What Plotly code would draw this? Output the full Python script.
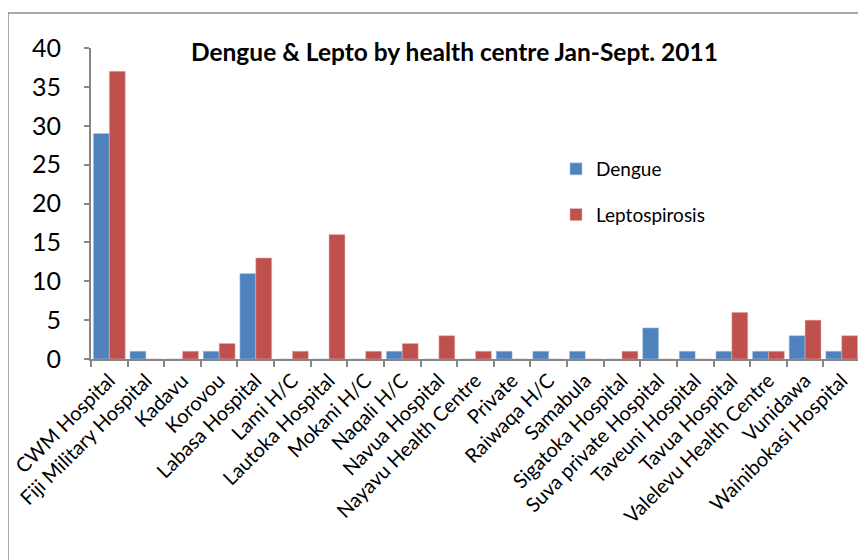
import plotly.graph_objects as go

centres = ["CWM Hospital", "Fiji Military Hospital", "Kadavu", "Korovou", "Labasa Hospital",
           "Lami H/C", "Lautoka Hospital", "Mokani H/C", "Naqali H/C", "Navua Hospital",
           "Nayavu Health Centre", "Private", "Raiwaqa H/C", "Samabula", "Sigatoka Hospital",
           "Suva private Hospital", "Taveuni Hospital", "Tavua Hospital", "Valelevu Health Centre",
           "Vunidawa", "Wainibokasi Hospital"]
dengue = [29, 1, 0, 1, 11, 0, 0, 0, 1, 0, 0, 1, 1, 1, 0, 4, 1, 1, 1, 3, 1]
lepto = [37, 0, 1, 2, 13, 1, 16, 1, 2, 3, 1, 0, 0, 0, 1, 0, 0, 6, 1, 5, 3]
y_ticks = [0, 5, 10, 15, 20, 25, 30, 35, 40]

FONT = "Lato, Calibri, Carlito, sans-serif"

fig = go.Figure()
fig.add_trace(go.Bar(x=centres, y=dengue, name="Dengue", marker_color="#4F81BD",
                     marker_line=dict(color="#B9CDE5", width=0.5), legendgroup="d"))
fig.add_trace(go.Bar(x=centres, y=lepto, name="Leptospirosis", marker_color="#C0504D",
                     marker_line=dict(color="#E6B9B8", width=0.5), legendgroup="l"))

W, H = 866, 560
OFF = 8  # page body margin offset
# target pixel positions in the screenshot
PL, PR, PT, PB = 91, 860, 48, 359
L = PL - OFF
T = PT - OFF
R = W - (PR - OFF)
B = H - (PB - OFF)
pw, ph = W - L - R, H - T - B

def px_x(x):
    return (x - OFF - L) / pw

def px_y(y):
    return (H - B - (y - OFF)) / ph

fig.update_layout(
    width=W, height=H,
    margin=dict(l=L, r=R, t=T, b=B, autoexpand=False),
    paper_bgcolor="white", plot_bgcolor="white",
    font=dict(family=FONT, color="black"),
    barmode="group", bargap=0.13, bargroupgap=0,
    showlegend=True,
    legend=dict(x=px_x(556), y=px_y(150), xanchor="left", yanchor="top",
                font=dict(size=19, family=FONT), bgcolor="rgba(0,0,0,0)",
                traceorder="grouped", tracegroupgap=18, itemwidth=30),
    annotations=[dict(text="<b>Dengue & Lepto by health centre Jan-Sept. 2011</b>",
                      x=px_x(454), y=px_y(52), xref="paper", yref="paper",
                      showarrow=False, font=dict(size=24.5, family=FONT), xanchor="center",
                      yanchor="middle")],
    shapes=[dict(type="rect", xref="paper", yref="paper",
                 x0=px_x(8), x1=px_x(885), y0=px_y(585), y1=px_y(13),
                 line=dict(color="#8C8C8C", width=1.5), fillcolor="rgba(0,0,0,0)", layer="below")],
    xaxis=dict(showline=True, linecolor="#868686", linewidth=2, ticks="outside",
               tickson="boundaries", ticklen=6, tickcolor="#868686", tickwidth=2,
               tickangle=-45, tickfont=dict(size=20, family=FONT), showgrid=False,
               automargin=False),
    yaxis=dict(range=[0, 40], tickvals=y_ticks, showline=True, linecolor="#868686",
               linewidth=2, ticks="outside", ticklen=5, tickcolor="#868686", tickwidth=2,
               tickfont=dict(size=25, family=FONT), showgrid=False, zeroline=False,
               ticklabelstandoff=18, automargin=False),
)

fig.write_html("out.html")
